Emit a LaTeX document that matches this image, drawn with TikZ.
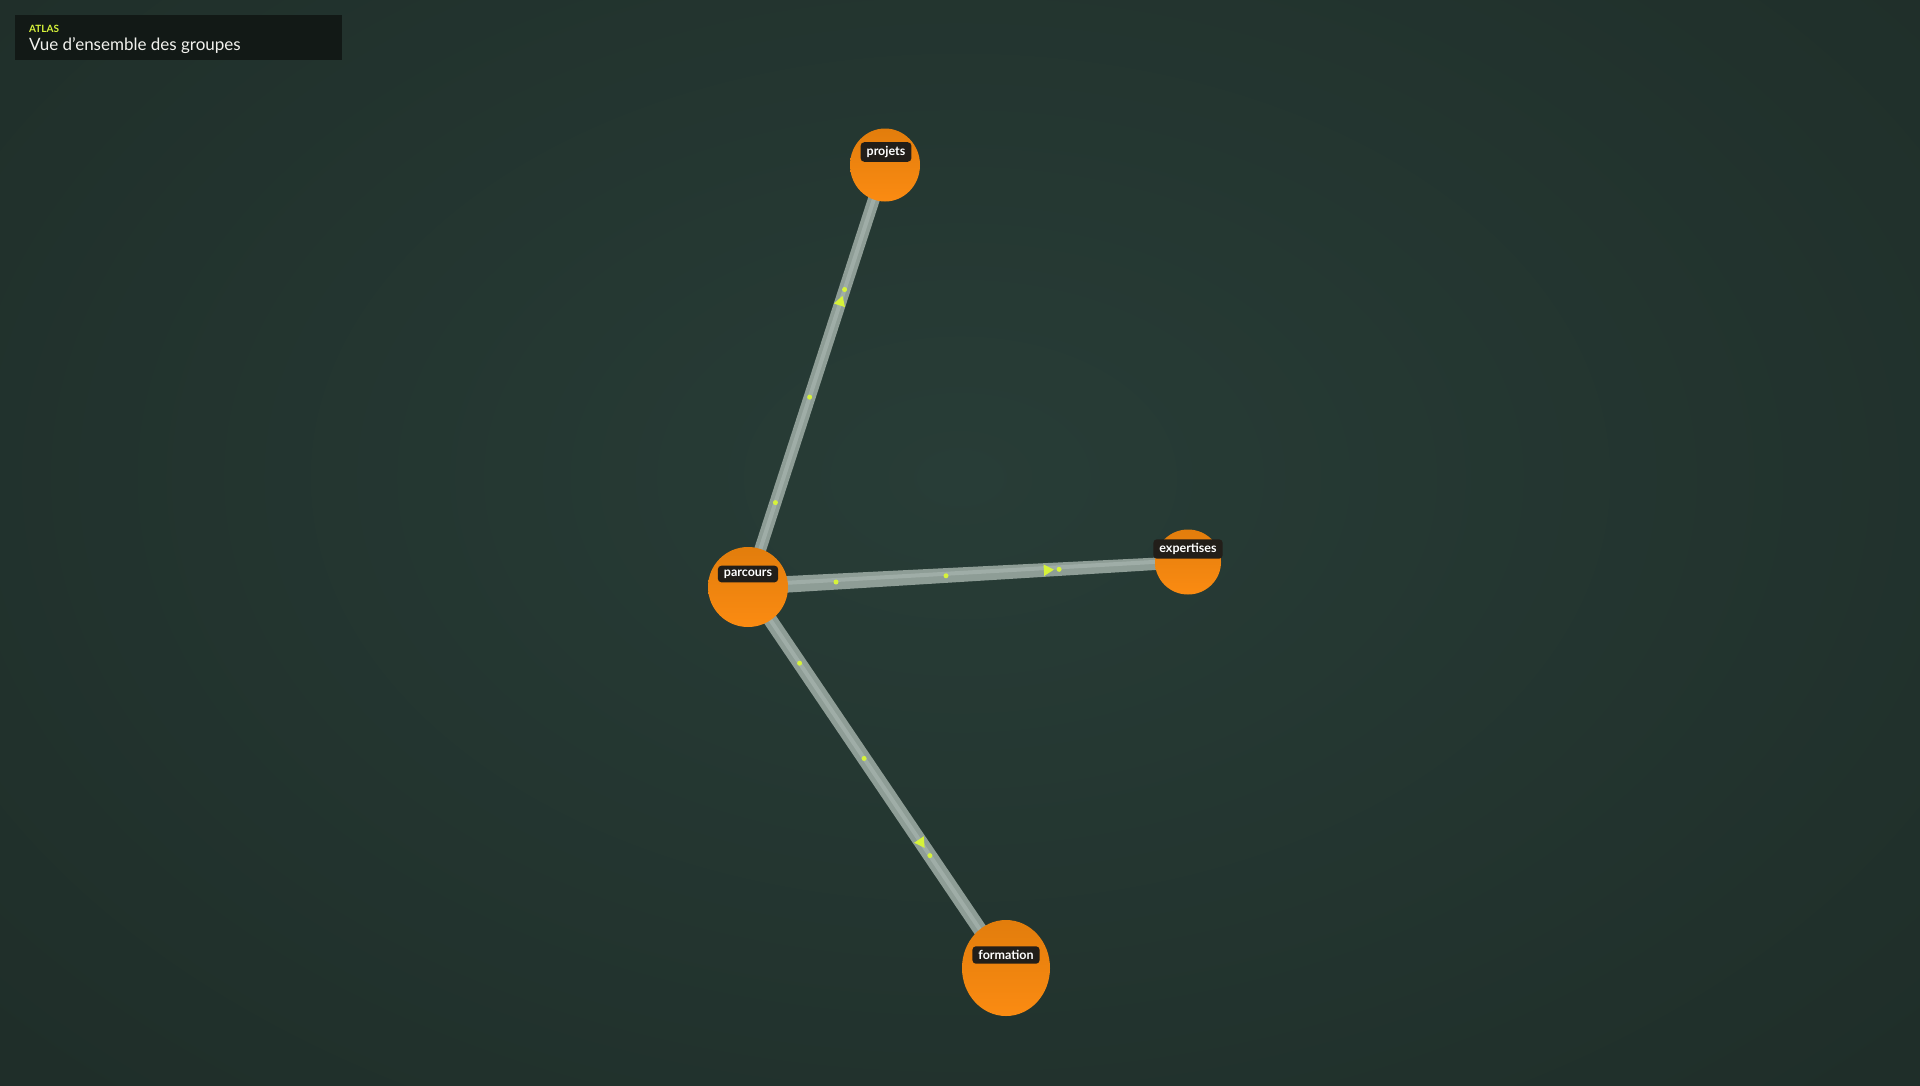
\documentclass[tikz,border=0pt]{standalone}
\usepackage{fontspec}
\setmainfont{Lato}
\usetikzlibrary{shapes.geometric}
\definecolor{bgin}{HTML}{283D37}
\definecolor{bgmid}{HTML}{1F2E29}
\definecolor{bgout}{HTML}{141C19}
\definecolor{edgec}{HTML}{8E9D96}
\definecolor{edgehi}{HTML}{AEBBB5}
\definecolor{lime}{HTML}{D6F23A}
\definecolor{orangetop}{HTML}{E27D0C}
\definecolor{orangebot}{HTML}{FB8B12}
\definecolor{labelbg}{HTML}{221E19}
\definecolor{titlebg}{HTML}{121916}
\definecolor{titlefg}{HTML}{F2F2EE}
\pgfdeclareradialshading{bgshade}{\pgfpoint{0bp}{0bp}}{color(0bp)=(bgin); color(28bp)=(bgmid); color(55bp)=(bgout); color(80bp)=(bgout)}
\tikzset{
  sphere/.style={ellipse, draw=none, top color=orangetop, bottom color=orangebot, inner sep=0pt},
  tag/.style={fill=labelbg, rounded corners=3.5pt, text=white, font=\fontsize{12.5}{13}\selectfont\bfseries, inner xsep=6pt, inner ysep=4pt},
  link/.style={draw=edgec, line cap=butt},
  linkhi/.style={draw=edgehi, line width=4pt, opacity=0.55},
  pdot/.style={circle, fill=lime, inner sep=0pt, minimum size=5pt},
  ptri/.style={isosceles triangle, isosceles triangle apex angle=60, fill=lime, inner sep=0pt, minimum height=10pt, minimum width=10pt}
}
\begin{document}
\begin{tikzpicture}[x=1pt,y=-1pt]
\useasboundingbox (0,0) rectangle (1920,1085);
\shade[shading=bgshade] (-200,-280) rectangle (2120,1235);
% title
\node[fill=titlebg, minimum width=327pt, minimum height=45pt, anchor=north west, inner sep=0pt] (titlebox) at (15,15) {};
\node[anchor=west, text=lime, font=\fontsize{10}{11}\selectfont\bfseries, inner sep=0pt] (atlas) at (29,29) {ATLAS};
\node[anchor=west, text=titlefg, font=\fontsize{17}{18}\selectfont, inner sep=0pt] (title) at (29,46) {Vue d'ensemble des groupes};
% node centres
\coordinate (cpar) at (748,587);
\coordinate (cpro) at (885,165);
\coordinate (cexp) at (1188,562);
\coordinate (cfor) at (1006,968);
% edges
\draw[link, line width=12pt] (cpar) -- (cpro);
\fill[edgec] ([yshift=-8pt]cpar) -- ([yshift=-6pt]cexp) -- ([yshift=6pt]cexp) -- ([yshift=9pt]cpar) -- cycle;
\draw[link, line width=14pt] (cpar) -- (cfor);
\draw[linkhi] (cpar) -- (cpro);
\draw[linkhi] ([yshift=2pt]cpar) -- ([yshift=2pt]cexp);
\draw[linkhi] (cpar) -- (cfor);
% particles
\path (cpar) -- (cpro)
  node[pos=0.2, pdot] (p1) {}
  node[pos=0.45, pdot] (p2) {}
  node[pos=0.705, pdot] (p3) {}
  node[pos=0.675, ptri, sloped] (t1) {};
\path (cpar) -- (cexp)
  node[pos=0.2, pdot] (e1) {}
  node[pos=0.45, pdot] (e2) {}
  node[pos=0.707, pdot] (e3) {}
  node[pos=0.68, ptri, sloped] (t2) {};
\path (cfor) -- (cpar)
  node[pos=0.8, pdot] (f1) {}
  node[pos=0.55, pdot] (f2) {}
  node[pos=0.295, pdot] (f3) {}
  node[pos=0.33, ptri, sloped] (t3) {};
% spheres
\node[sphere, minimum width=70pt, minimum height=73pt] (projets) at (cpro) {};
\node[sphere, minimum width=80pt, minimum height=80pt] (parcours) at (cpar) {};
\node[sphere, minimum width=66pt, minimum height=65pt] (expertises) at (cexp) {};
\node[sphere, minimum width=88pt, minimum height=96pt] (formation) at (cfor) {};
% labels
\node[tag] (lpro) at (886,152) {projets};
\node[tag] (lpar) at (748,574) {parcours};
\node[tag] (lexp) at (1188,549) {expertises};
\node[tag] (lfor) at (1006,955) {formation};
\end{tikzpicture}
\end{document}
